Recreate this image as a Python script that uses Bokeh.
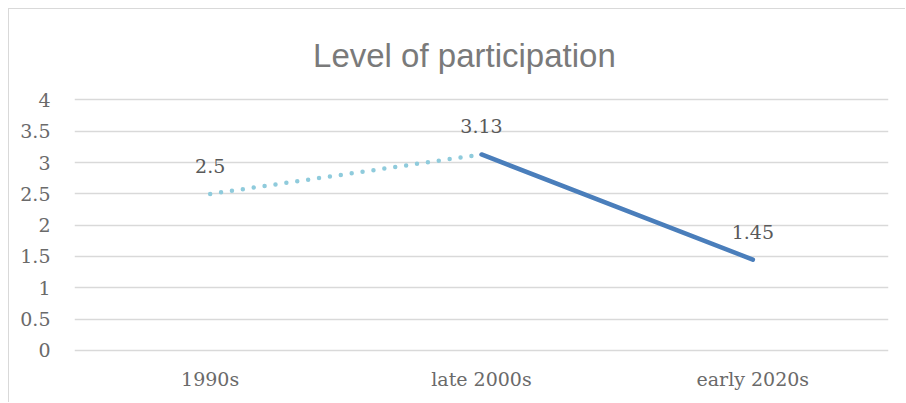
from bokeh.plotting import figure
from bokeh.models import FactorRange, Range1d, FixedTicker, ColumnDataSource, Label
from bokeh.core.properties import value
from bokeh.embed import file_html
from bokeh.resources import INLINE

title = "Level of participation"
categories = ["1990s", "late 2000s", "early 2020s"]
values = [2.5, 3.13, 1.45]
labels = ["2.5", "3.13", "1.45"]
y_ticks = [0, 0.5, 1, 1.5, 2, 2.5, 3, 3.5, 4]
y_tick_labels = ["0", "0.5", "1", "1.5", "2", "2.5", "3", "3.5", "4"]

# the frame extends above the top tick so the title can sit inside it
p = figure(
    width=897, height=394,
    x_range=FactorRange(*categories, range_padding=0),
    y_range=Range1d(-0.05, 5.27),
    output_backend="svg", toolbar_location=None,
    min_border_left=65, min_border_right=18,
    min_border_top=11, min_border_bottom=50,
)
p.styles = {"margin-left": "8px", "margin-top": "8px",
            "border-left": "1.5px solid #d9d9d9", "border-top": "1.5px solid #d9d9d9"}
p.outline_line_color = None
p.background_fill_color = "white"

p.add_layout(Label(x=1.437, y=4.71, text=title, text_align="center",
                   text_baseline="alphabetic", text_font="Liberation Sans",
                   text_font_size="33px", text_color="#7a7a7a"))

p.xgrid.grid_line_color = None
p.ygrid.grid_line_color = "#d9d9d9"
p.ygrid.grid_line_width = 1.5
p.yaxis.ticker = FixedTicker(ticks=y_ticks)
p.yaxis.major_label_overrides = {t: l for t, l in zip(y_ticks, y_tick_labels)}

for ax in (p.xaxis, p.yaxis):
    ax.axis_line_color = None
    ax.major_tick_line_color = None
    ax.minor_tick_line_color = None
    ax.major_label_text_font = "DejaVu Serif"
    ax.major_label_text_font_size = "19px"
    ax.major_label_text_color = "#6a6a6a"
p.yaxis.major_label_standoff = 18
p.xaxis.major_label_standoff = 8

# dotted segment (first two points)
p.line(categories[0:2], values[0:2], line_color="#8fcbdc", line_width=4.5,
       line_dash="0 11", line_cap="round")
# solid segment (last two points)
p.line(categories[1:3], values[1:3], line_color="#4a7ebb", line_width=4.5,
       line_cap="round")

src = ColumnDataSource(dict(x=categories, y=values, t=labels))
p.text(x="x", y="y", text="t", source=src, text_align="center",
       text_baseline="bottom", y_offset=-21,
       text_font=value("DejaVu Serif"), text_font_size="19px",
       text_color="#595959")

open("out.html", "w").write(file_html(p, INLINE))
